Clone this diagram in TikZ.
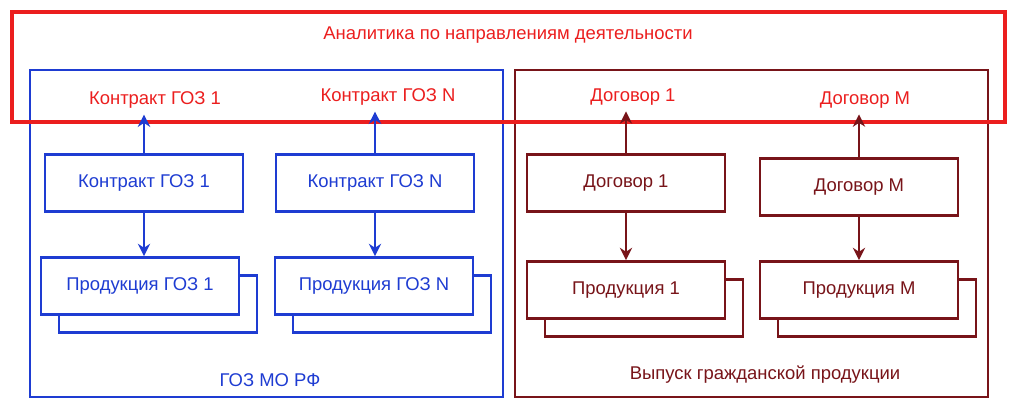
\documentclass[tikz,border=0pt]{standalone}
\usepackage{fontspec}
\setmainfont{Liberation Sans}
\usetikzlibrary{arrows.meta}
\definecolor{gozblue}{RGB}{30,60,210}
\definecolor{anred}{RGB}{235,30,30}
\definecolor{civred}{RGB}{120,20,25}
\tikzset{
  box/.style={draw, line width=1.6pt, fill=white, minimum width=3.96cm, minimum height=1.14cm, font=\fontsize{10.5}{13}\selectfont},
  gozbox/.style={box, draw=gozblue, text=gozblue},
  civbox/.style={box, draw=civred, text=civred},
  lbl/.style={font=\fontsize{10.5}{13}\selectfont},
  arr/.style={line width=1.6pt, -{Stealth[length=7pt,width=7pt]}}
}
\begin{document}
\begin{tikzpicture}[x=0.02cm, y=-0.02cm]
		\useasboundingbox (0,0) rectangle (1024,408);
		% outer frames
		\draw [gozblue, line width=0.6pt] (30,70) rectangle (503,397);
		\draw [civred, line width=0.6pt] (515,70) rectangle (988,397);
		\node [lbl, gozblue] (goz) at (270,380) {ГОЗ МО РФ};
		\node [lbl, civred] (civ) at (765,375) {Выпуск гражданской продукции};
		% analytics frame
		\draw [anred, line width=2.2pt] (12,12) rectangle (1005,122);
		\node [lbl, anred] (an) at (508,35) {Аналитика по направлениям деятельности};
		% top labels
		\node [lbl, anred] (t1) at (155,100) {Контракт ГОЗ 1};
		\node [lbl, anred] (t2) at (388,97) {Контракт ГОЗ N};
		\node [lbl, anred] (t3) at (633,97) {Договор 1};
		\node [lbl, anred] (t4) at (865,100) {Договор М};
		% contract boxes
		\node [gozbox] (k1) at (144,183) {Контракт ГОЗ 1};
		\node [gozbox] (k2) at (375,183) {Контракт ГОЗ N};
		\node [civbox] (d1) at (626,183) {Договор 1};
		\node [civbox] (d2) at (859,187) {Договор М};
		% product boxes with shadow copies
		\node [gozbox] (p1s) at (158,304) {};
		\node [gozbox] (p1) at (140,286) {Продукция ГОЗ 1};
		\node [gozbox] (p2s) at (392,304) {};
		\node [gozbox] (p2) at (374,286) {Продукция ГОЗ N};
		\node [civbox] (p3s) at (644,308) {};
		\node [civbox] (p3) at (626,290) {Продукция 1};
		\node [civbox] (p4s) at (877,308) {};
		\node [civbox] (p4) at (859,290) {Продукция М};
		% arrows
		\draw [arr, gozblue] (k1.north) -- (k1.north |- t1.south);
		\draw [arr, gozblue] (k2.north) -- (k2.north |- t2.south);
		\draw [arr, civred] (d1.north) -- (d1.north |- t3.south);
		\draw [arr, civred] (d2.north) -- (d2.north |- t4.south);
		\draw [arr, gozblue] (k1.south) -- (k1.south |- p1.north);
		\draw [arr, gozblue] (k2.south) -- (k2.south |- p2.north);
		\draw [arr, civred] (d1.south) -- (d1.south |- p3.north);
		\draw [arr, civred] (d2.south) -- (d2.south |- p4.north);
	\end{tikzpicture}
\end{document}
